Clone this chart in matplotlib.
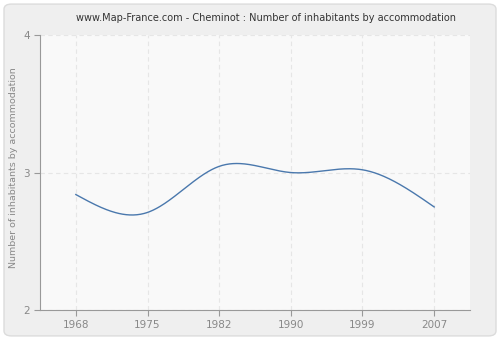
import numpy as np
import matplotlib
matplotlib.use("Agg")
import matplotlib.pyplot as plt
from matplotlib.patches import FancyBboxPatch

years = ["1968", "1975", "1982", "1990", "1999", "2007"]
values = [2.84, 2.71, 3.045, 3.00, 3.02, 2.75]
y_ticks = [2, 3, 4]
title = "www.Map-France.com - Cheminot : Number of inhabitants by accommodation"
ylabel = "Number of inhabitants by accommodation"


def natural_spline(x, y, xs):
    x = np.asarray(x, float); y = np.asarray(y, float)
    n = len(x)
    h = np.diff(x)
    A = np.zeros((n, n)); b = np.zeros(n)
    A[0, 0] = 1; A[-1, -1] = 1
    for i in range(1, n - 1):
        A[i, i - 1] = h[i - 1]
        A[i, i] = 2 * (h[i - 1] + h[i])
        A[i, i + 1] = h[i]
        b[i] = 3 * ((y[i + 1] - y[i]) / h[i] - (y[i] - y[i - 1]) / h[i - 1])
    c = np.linalg.solve(A, b)
    out = np.empty_like(xs)
    for k, xv in enumerate(xs):
        i = min(max(np.searchsorted(x, xv) - 1, 0), n - 2)
        dx = xv - x[i]
        bi = (y[i + 1] - y[i]) / h[i] - h[i] * (2 * c[i] + c[i + 1]) / 3
        di = (c[i + 1] - c[i]) / (3 * h[i])
        out[k] = y[i] + bi * dx + c[i] * dx ** 2 + di * dx ** 3
    return out


fig = plt.figure(figsize=(5, 3.4), dpi=100)
fig.patch.set_facecolor("white")
bg = FancyBboxPatch((0.008, 0.012), 0.984, 0.976, boxstyle="round,pad=0,rounding_size=0.015",
                    transform=fig.transFigure, facecolor="#efefef", edgecolor="#dcdcdc",
                    linewidth=1, zorder=-10)
fig.patches.append(bg)

ax = fig.add_axes([0.08, 0.088, 0.86, 0.809])
ax.set_zorder(5)
ax.set_facecolor("#f9f9f9")
xi = np.arange(len(years))
xs = np.linspace(0, len(years) - 1, 400)
ax.plot(xs, natural_spline(xi, values, xs), color="#4a78ad", linewidth=1.0, zorder=3)

ax.set_xlim(-0.5, len(years) - 0.5)
ax.set_ylim(2, 4)
ax.set_xticks(xi)
ax.set_xticklabels(years)
ax.set_yticks(y_ticks)
ax.grid(True, color="#e6e6e6", linestyle=(0, (4, 3)), linewidth=0.8)
ax.set_axisbelow(True)
for s in ["top", "right"]:
    ax.spines[s].set_visible(False)
for s in ["left", "bottom"]:
    ax.spines[s].set_color("#999999")
ax.tick_params(colors="#999999", labelcolor="#888888", labelsize=7.5, length=4, width=0.8)
fig.text(0.028, 0.508, ylabel, rotation=90, ha="center", va="center", fontsize=6.8, color="#888888")
fig.text(0.533, 0.948, title, ha="center", va="center", fontsize=7, color="#333333")

fig.savefig("out.png", dpi=100)
